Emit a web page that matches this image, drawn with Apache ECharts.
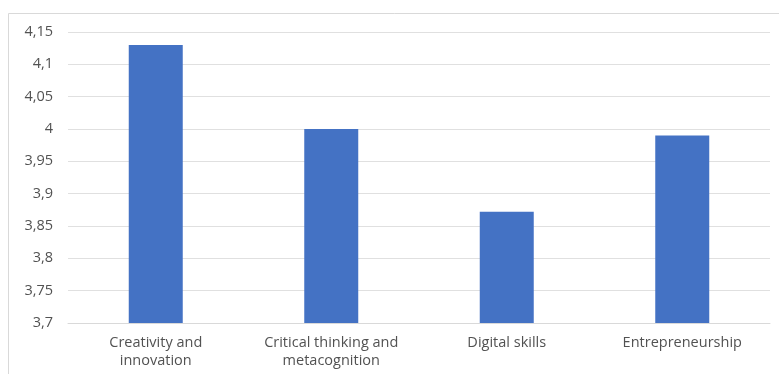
<!DOCTYPE html>
<html>
<head>
<meta charset="utf-8">
<script src="https://cdn.jsdelivr.net/npm/echarts@6/dist/echarts.min.js"></script>
<style>
html,body{margin:0;padding:0;background:#fff;}
#chart{width:779px;height:374px;}
</style>
</head>
<body>
<div id="chart"></div>
<script>
var categories = ['Creativity and\ninnovation', 'Critical thinking and\nmetacognition', 'Digital skills', 'Entrepreneurship'];
var values = [4.13, 4.0, 3.872, 3.99];
var yTickLabels = ['3,7', '3,75', '3,8', '3,85', '3,9', '3,95', '4', '4,05', '4,1', '4,15'];
var yMin = 3.7, yMax = 4.15, yStep = 0.05;

var chart = echarts.init(document.getElementById('chart'), null, {renderer: 'canvas'});
chart.setOption({
  animation: false,
  backgroundColor: '#ffffff',
  graphic: [{
    type: 'rect',
    shape: {x: 8.5, y: 13.5, width: 780, height: 380},
    style: {fill: 'none', stroke: '#d9d9d9', lineWidth: 1},
    silent: true
  }],
  grid: {left: 68, right: 9, top: 32, bottom: 51},
  xAxis: {
    type: 'category',
    data: categories,
    axisTick: {show: false},
    axisLine: {lineStyle: {color: '#d9d9d9', width: 1}},
    axisLabel: {
      color: '#525252', fontFamily: 'Open Sans', fontSize: 14.5, margin: 11, lineHeight: 18, interval: 0
    }
  },
  yAxis: {
    type: 'value',
    min: yMin, max: yMax, interval: yStep,
    axisLine: {show: false},
    axisTick: {show: false},
    splitLine: {lineStyle: {color: '#e0e0e0', width: 1}},
    axisLabel: {
      color: '#525252', fontFamily: 'Open Sans', fontSize: 14.5, margin: 15,
      formatter: function (v) {
        var i = Math.round((v - yMin) / yStep);
        return yTickLabels[i] !== undefined ? yTickLabels[i] : String(v).replace('.', ',');
      }
    }
  },
  series: [{
    type: 'bar',
    data: values,
    barWidth: 54,
    itemStyle: {color: '#4472c4'}
  }]
});
</script>
</body>
</html>
